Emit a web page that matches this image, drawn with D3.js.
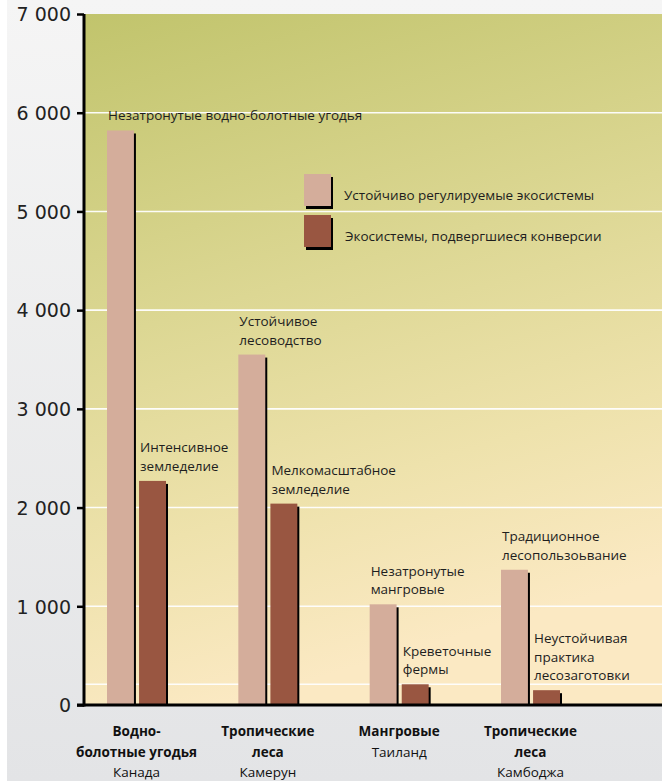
<!DOCTYPE html>
<html>
<head>
<meta charset="utf-8">
<script src="https://cdn.jsdelivr.net/npm/d3@7"></script>
<style>
  html, body { margin: 0; padding: 0; background: #ffffff; }
  svg { display: block; }
  .ann { font-family: "Open Sans", sans-serif; font-size: 13.5px; fill: #1e1e1e; }
  .cat { font-family: "Open Sans", sans-serif; font-size: 13.5px; fill: #111; }
  .tick-label { font-family: "DejaVu Sans", sans-serif; font-size: 19px; fill: #222; }
</style>
</head>
<body>
<svg id="chart" width="665" height="781"></svg>
<script>
// Ecosystem value by management type, four case studies
const groups = ["wetlands", "cameroon", "mangroves", "cambodia"];
const seriesKeys = ["sustainable", "converted"];
const seriesNames = ["Устойчиво регулируемые экосистемы", "Экосистемы, подвергшиеся конверсии"];
const sustainableValues = [5820, 3550, 1020, 1370];
const convertedValues = [2270, 2040, 210, 150];

// Category labels: bold lines then the country line
const categoryTitles = [["Водно-", "болотные угодья"], ["Тропические", "леса"], ["Мангровые"], ["Тропические", "леса"]];
const categoryCountries = ["Канада", "Камерун", "Таиланд", "Камбоджа"];

// Text written above each bar
const sustainableNotes = [["Незатронутые водно-болотные угодья"], ["Устойчивое", "лесоводство"], ["Незатронутые", "мангровые"], ["Традиционное", "лесопользоьвание"]];
const convertedNotes = [["Интенсивное", "земледелие"], ["Мелкомасштабное", "земледелие"], ["Креветочные", "фермы"], ["Неустойчивая", "практика", "лесозаготовки"]];

const yTicks = [0, 1000, 2000, 3000, 4000, 5000, 6000, 7000];
const gridValues = [210, 1000, 2000, 3000, 4000, 5000, 6000];

const colors = { sustainable: "#d4ad9b", converted: "#995641" };

const W = 665, H = 781;
const plot = { left: 84, right: 662, top: 14, bottom: 705 };

const svg = d3.select("#chart");
const defs = svg.append("defs");

const pageGrad = defs.append("linearGradient").attr("id", "pageGrad")
  .attr("x1", 0).attr("y1", 0).attr("x2", 0).attr("y2", 1);
pageGrad.append("stop").attr("offset", 0).attr("stop-color", "#f5f5f5");
pageGrad.append("stop").attr("offset", 1).attr("stop-color", "#e3e4e6");

const plotGrad = defs.append("linearGradient").attr("id", "plotGrad")
  .attr("x1", 0).attr("y1", 0).attr("x2", 0.25).attr("y2", 1);
plotGrad.append("stop").attr("offset", 0).attr("stop-color", "#c1c46c");
plotGrad.append("stop").attr("offset", 0.45).attr("stop-color", "#dcd793");
plotGrad.append("stop").attr("offset", 0.75).attr("stop-color", "#eee2ac");
plotGrad.append("stop").attr("offset", 1).attr("stop-color", "#fbe9c3");

// Page panel
svg.append("rect").attr("x", 7).attr("y", 0).attr("width", 655).attr("height", H)
  .attr("fill", "url(#pageGrad)");

// Plot area
svg.append("rect").attr("x", plot.left).attr("y", plot.top)
  .attr("width", plot.right - plot.left).attr("height", plot.bottom - plot.top)
  .attr("fill", "url(#plotGrad)");

const y = d3.scaleLinear().domain([0, 7000]).range([plot.bottom, plot.top]);
const x = d3.scalePoint().domain(groups).range([136.5, 530.5]);
const xSub = d3.scaleBand().domain(seriesKeys).range([-29.5, 29.5]).paddingInner(0.16);

// Grid lines
svg.append("g").selectAll("line").data(gridValues).join("line")
  .attr("x1", plot.left).attr("x2", plot.right)
  .attr("y1", d => y(d)).attr("y2", d => y(d))
  .attr("stroke", "#ffffff").attr("stroke-width", 1.6).attr("opacity", 0.95);

// Bars with a dark drop shadow on the right
const rows = groups.map((g, i) => ({
  group: g,
  values: [
    { key: "sustainable", value: sustainableValues[i], notes: sustainableNotes[i] },
    { key: "converted", value: convertedValues[i], notes: convertedNotes[i] }
  ]
}));

const gGroups = svg.append("g").selectAll("g").data(rows).join("g")
  .attr("transform", d => `translate(${x(d.group)},0)`);

gGroups.selectAll("rect.shadow").data(d => d.values).join("rect")
  .attr("class", "shadow")
  .attr("x", d => xSub(d.key) + 2)
  .attr("y", d => y(d.value) + 3)
  .attr("width", xSub.bandwidth())
  .attr("height", d => plot.bottom - y(d.value) - 3)
  .attr("fill", "#000");

gGroups.selectAll("rect.bar").data(d => d.values).join("rect")
  .attr("class", "bar")
  .attr("x", d => xSub(d.key))
  .attr("y", d => y(d.value))
  .attr("width", xSub.bandwidth())
  .attr("height", d => plot.bottom - y(d.value))
  .attr("fill", d => colors[d.key]);

// Notes above bars
const lineH = 18.5;
gGroups.selectAll("text.ann").data(d => d.values).join("text")
  .attr("class", "ann")
  .attr("transform", d => `translate(${xSub(d.key) + 1},${y(d.value) - 10 - (d.notes.length - 1) * lineH})`)
  .each(function(d) {
    d3.select(this).selectAll("tspan").data(d.notes).join("tspan")
      .attr("x", 0).attr("dy", (t, i) => i === 0 ? 0 : lineH).text(t => t);
  });

// Y axis
const yAxis = d3.axisLeft(y).tickValues(yTicks).tickSize(7).tickPadding(6)
  .tickFormat(d => d3.format(",")(d).replace(/,/g, " "));
const gy = svg.append("g").attr("transform", `translate(${plot.left},0)`).call(yAxis);
gy.select(".domain").remove();
gy.selectAll(".tick line").attr("stroke", "#000").attr("stroke-width", 2.5);
gy.selectAll(".tick text").attr("class", "tick-label").attr("font-size", null).attr("font-family", null)
  .attr("fill", null).attr("dy", "0.36em");

svg.append("line").attr("x1", plot.left).attr("x2", plot.left)
  .attr("y1", plot.top).attr("y2", plot.bottom + 1.5)
  .attr("stroke", "#000").attr("stroke-width", 3);
svg.append("line").attr("x1", plot.left - 7).attr("x2", plot.right)
  .attr("y1", plot.bottom).attr("y2", plot.bottom)
  .attr("stroke", "#000").attr("stroke-width", 3);

// Category labels
const cat = svg.append("g").selectAll("text").data(groups).join("text")
  .attr("class", "cat").attr("text-anchor", "middle")
  .attr("transform", d => `translate(${x(d)},736)`);
cat.each(function(d, i) {
  const t = d3.select(this);
  categoryTitles[i].forEach((line, j) => {
    t.append("tspan").attr("x", 0).attr("y", j * 20.5).attr("font-weight", 700).text(line);
  });
  t.append("tspan").attr("x", 0).attr("y", categoryTitles[i].length * 20.5).text(categoryCountries[i]);
});

// Legend
const legend = svg.append("g").attr("transform", "translate(304,174)");
const li = legend.selectAll("g").data(seriesKeys).join("g")
  .attr("transform", (d, i) => `translate(0,${i * 41})`);
li.append("rect").attr("x", 2).attr("y", 3).attr("width", 27).attr("height", 32).attr("fill", "#000");
li.append("rect").attr("width", 27).attr("height", 32).attr("fill", d => colors[d]);
li.append("text").attr("class", "ann").attr("x", (d, i) => 40 + i).attr("y", (d, i) => 26 - i * 0.5)
  .text((d, i) => seriesNames[i]);
</script>
</body>
</html>
